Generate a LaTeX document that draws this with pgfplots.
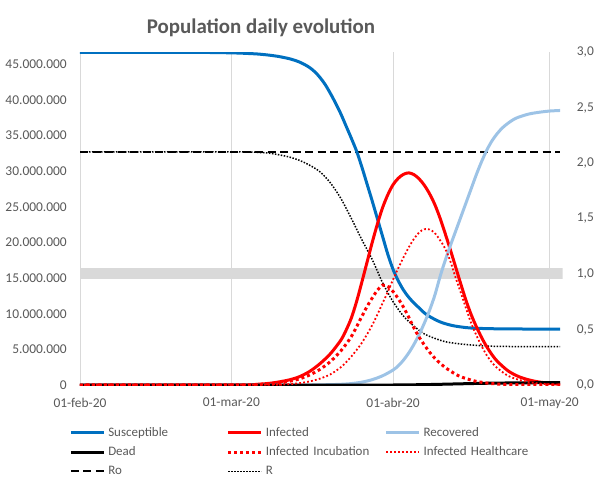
\documentclass[border=0pt]{standalone}
\usepackage{pgfplots}
\pgfplotsset{compat=1.18}
\usepackage{fontspec}
\setmainfont{Carlito}
\definecolor{txtgray}{HTML}{595959}
\definecolor{gridgray}{HTML}{D9D9D9}
\definecolor{sblue}{HTML}{0070C0}
\definecolor{rblue}{HTML}{9DC3E6}
\definecolor{ired}{HTML}{FF0000}
\begin{document}
\begin{tikzpicture}
\useasboundingbox (-80bp,-97bp) rectangle (521bp,385bp);
\pgfplotsset{
  common/.style={
    scale only axis, width=482.7bp, height=333bp, at={(0,0)}, anchor=south west,
    xmin=0, xmax=92.5, major tick length=0pt, axis line style={draw=none},
    tick label style={font=\fontsize{13.5}{16}\selectfont, text=txtgray},
  }
}
% secondary (right) axis: R, Ro and the R=1 band
\begin{axis}[common,
  axis y line*=right, axis x line*=bottom,
  ymin=0, ymax=3,
  xtick={0,29,60,90}, xticklabels={01-feb-20,01-mar-20,01-abr-20,01-may-20},
  xmajorgrids, grid style={draw=gridgray, line width=0.75bp},
  ytick={0,0.5,1,1.5,2,2.5,3},
  yticklabel style={anchor=west, inner sep=0pt, xshift=14bp, /pgf/number format/.cd, fixed, fixed zerofill, precision=1, use comma, assume math mode=true},
  xticklabel style={anchor=north, inner sep=0pt, yshift=-13bp},
]
\addplot[gridgray, line width=11bp] coordinates {(0,1) (92.5,1)};
\addplot[black, line width=2bp, dash pattern=on 8bp off 4.5bp] coordinates {(0,2.1) (92,2.1)};
\addplot[black, line width=1.5bp, dash pattern=on 1.5bp off 1.5bp, smooth] coordinates {
(0,2.1) (30,2.1) (34,2.095) (36,2.09) (38,2.075) (40,2.055) (42,2.025) (44,1.98) (46,1.92) (48,1.82) (50,1.68) (52,1.5) (54,1.31) (56,1.13) (58,0.92) (60,0.75) (62,0.62) (64,0.53) (66,0.46) (68,0.42) (70,0.39) (72,0.375) (75,0.36) (80,0.348) (92,0.345)};
\end{axis}
% primary (left) axis: population compartments
\begin{axis}[common,
  axis y line*=left, axis x line=none,
  ymin=0, ymax=46.7e6, scaled y ticks=false,
  ytick={0,5e6,10e6,15e6,20e6,25e6,30e6,35e6,40e6,45e6},
  yticklabel style={anchor=east, inner sep=0pt, xshift=-13bp, /pgf/number format/.cd, fixed, precision=0, 1000 sep={.}, assume math mode=true},
  legend columns=3,
  legend cell align=left,
  legend style={at={(-0.0222,-0.1248)}, anchor=north west, draw=none, fill=none, inner sep=0pt, outer sep=0pt,
    column sep=3bp, row sep=7bp, font=\fontsize{13}{15}\selectfont, text=txtgray,
    nodes={text width=115.7bp, text height=9.5bp, text depth=2.8bp, inner sep=0pt, align=left}},
  legend image code/.code={\draw[#1] (0bp,0bp) -- (33bp,0bp);},
]
\addplot[sblue, line width=3bp, smooth] coordinates {
(0,46.65e6) (20,46.65e6) (26,46.62e6) (30,46.56e6) (32,46.5e6) (34,46.42e6) (36,46.28e6) (38,46.08e6) (40,45.78e6) (41,45.57e6) (42,45.31e6) (43,44.96e6) (44,44.52e6) (45,43.92e6) (46,43.12e6) (47,42.12e6) (48,40.87e6) (49,39.5e6) (50,38.0e6) (51,36.3e6) (52,34.6e6) (53,32.8e6) (54,30.6e6) (55,28.2e6) (56,25.8e6) (57,23.3e6) (58,20.8e6) (59,18.3e6) (60,16.2e6) (61,14.6e6) (62,13.3e6) (63,12.3e6) (64,11.5e6) (65,10.8e6) (66,10.1e6) (67,9.6e6) (68,9.2e6) (69,8.85e6) (70,8.6e6) (71,8.4e6) (72,8.25e6) (74,8.05e6) (76,7.95e6) (80,7.88e6) (86,7.85e6) (92,7.85e6)};
\addlegendentry{Susceptible}
\addplot[ired, line width=3bp, smooth] coordinates {
(0,0) (30,0.02e6) (34,0.1e6) (37,0.3e6) (40,0.7e6) (42,1.15e6) (44,1.9e6) (46,3.0e6) (48,4.4e6) (50,6.3e6) (51,7.7e6) (52,9.4e6) (53,11.7e6) (54,14.4e6) (55,17.2e6) (56,20.0e6) (57,22.6e6) (58,24.9e6) (59,26.7e6) (60,28.1e6) (61,29.0e6) (62,29.55e6) (63,29.75e6) (64,29.5e6) (65,28.9e6) (66,28.0e6) (67,26.8e6) (68,25.3e6) (69,23.4e6) (70,21.2e6) (71,18.9e6) (72,16.5e6) (73,14.1e6) (74,11.8e6) (75,9.8e6) (76,8.1e6) (77,6.6e6) (78,5.3e6) (79,4.2e6) (80,3.3e6) (82,2.0e6) (84,1.2e6) (86,0.72e6) (88,0.42e6) (90,0.24e6) (92,0.13e6)};
\addlegendentry{Infected}
\addplot[rblue, line width=3bp, smooth] coordinates {
(0,0) (44,0) (46,0.02e6) (48,0.05e6) (50,0.1e6) (52,0.2e6) (54,0.4e6) (56,0.75e6) (58,1.3e6) (60,2.1e6) (61,2.7e6) (62,3.5e6) (63,4.5e6) (64,5.7e6) (65,7.1e6) (66,8.7e6) (67,10.5e6) (68,12.6e6) (69,15.2e6) (70,17.5e6) (71,19.6e6) (72,21.6e6) (73,23.6e6) (74,25.6e6) (75,27.6e6) (76,29.6e6) (77,31.4e6) (78,33.0e6) (79,34.3e6) (80,35.3e6) (81,36.1e6) (82,36.7e6) (83,37.2e6) (84,37.55e6) (86,38.0e6) (88,38.25e6) (90,38.42e6) (92,38.5e6)};
\addlegendentry{Recovered}
\addplot[black, line width=3bp] coordinates {
(0,0) (60,0) (64,0.03e6) (68,0.08e6) (72,0.15e6) (76,0.22e6) (80,0.27e6) (84,0.3e6) (88,0.32e6) (92,0.33e6)};
\addlegendentry{Dead}
\addplot[ired, line width=3bp, dash pattern=on 3bp off 3bp, smooth] coordinates {
(0,0) (30,0.02e6) (34,0.08e6) (37,0.22e6) (40,0.5e6) (42,0.85e6) (44,1.4e6) (46,2.2e6) (48,3.3e6) (50,4.8e6) (52,6.8e6) (54,9.6e6) (55,11.0e6) (56,12.2e6) (57,13.3e6) (58,14.0e6) (59,13.8e6) (60,13.1e6) (61,12.1e6) (62,10.9e6) (63,9.5e6) (64,8.0e6) (65,6.7e6) (66,5.6e6) (67,4.6e6) (68,3.75e6) (69,3.05e6) (70,2.45e6) (71,1.95e6) (72,1.5e6) (73,1.15e6) (74,0.9e6) (75,0.68e6) (76,0.5e6) (78,0.27e6) (80,0.14e6) (83,0.05e6) (86,0.02e6) (92,0)};
\addlegendentry{Infected Incubation}
\addplot[ired, line width=1.8bp, dash pattern=on 1.8bp off 2.2bp, smooth] coordinates {
(0,0) (36,0.03e6) (38,0.06e6) (40,0.12e6) (42,0.25e6) (44,0.5e6) (46,0.9e6) (48,1.5e6) (50,2.5e6) (51,3.2e6) (52,4.0e6) (53,4.9e6) (54,5.9e6) (55,7.1e6) (56,8.4e6) (57,9.9e6) (58,11.5e6) (59,13.1e6) (60,14.8e6) (61,16.4e6) (62,17.9e6) (63,19.3e6) (64,20.5e6) (65,21.4e6) (66,21.85e6) (67,21.8e6) (68,21.3e6) (69,20.3e6) (70,19.1e6) (71,17.3e6) (72,15.0e6) (73,12.9e6) (74,10.7e6) (75,8.6e6) (76,6.9e6) (77,5.4e6) (78,4.1e6) (79,3.1e6) (80,2.35e6) (82,1.3e6) (84,0.75e6) (86,0.4e6) (88,0.21e6) (90,0.11e6) (92,0.06e6)};
\addlegendentry{Infected Healthcare}
\addlegendimage{black, line width=2bp, dash pattern=on 8bp off 4.5bp}
\addlegendentry{Ro}
\addlegendimage{black, line width=1.5bp, dash pattern=on 1.5bp off 1.5bp}
\addlegendentry{R}
\end{axis}
\node[font=\fontsize{21}{24}\selectfont\bfseries, text=txtgray] at (181bp,357bp) {Population daily evolution};
\end{tikzpicture}
\end{document}
